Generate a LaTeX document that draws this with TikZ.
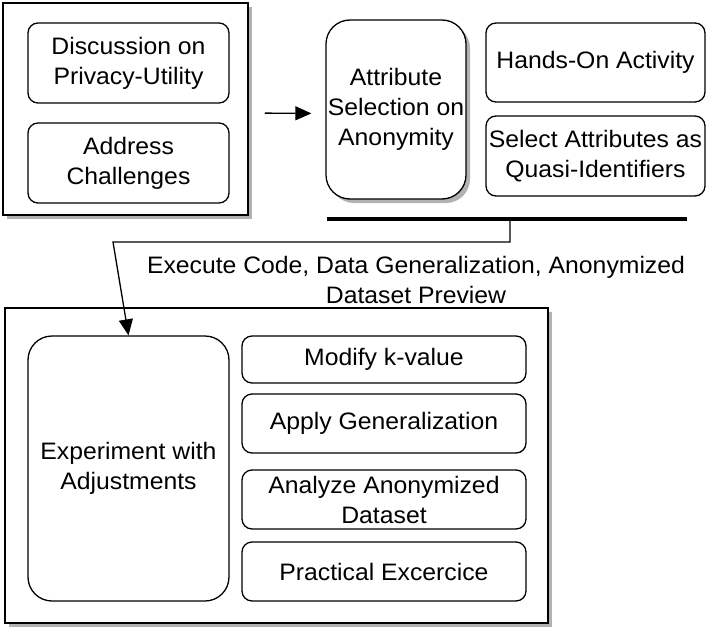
\documentclass[tikz,border=0pt]{standalone}
\usepackage{fontspec}
\setmainfont{Liberation Sans}[FakeStretch=1.04]
\usetikzlibrary{arrows.meta,shadows}
\begin{document}
\begin{tikzpicture}[x=1pt,y=-1pt,
  every node/.style={font=\fontsize{23.8}{30}\selectfont, align=center, inner sep=0pt},
  shad/.style={general shadow={fill=black!30, shadow xshift=4pt, shadow yshift=-4pt}},
  frame/.style={draw, line width=1.5pt, fill=white, shad},
  rbox/.style={draw, line width=1.3pt, rounded corners=10pt, fill=white},
  bigbox/.style={rbox, rounded corners=24pt},
  conn/.style={line width=1.3pt, -{Triangle[length=16pt,width=14pt]}}
]
\useasboundingbox (0,0) rectangle (709,634);
% top-left group
\node[frame, minimum width=245pt, minimum height=212pt] (tl) at (125.5,109) {};
\node[rbox, minimum width=201pt, minimum height=80pt] (disc) at (128.5,63) {Discussion on\\Privacy-Utility};
\node[rbox, minimum width=201pt, minimum height=80pt] (addr) at (128.5,163) {Address\\Challenges};
% top-right group
\node[bigbox, shad, minimum width=140pt, minimum height=179pt] (attr) at (396,109.5) {Attribute\\Selection on\\Anonymity};
\node[rbox, minimum width=219pt, minimum height=79pt] (hands) at (595.5,62.5) {Hands-On Activity};
\node[rbox, minimum width=219pt, minimum height=80pt] (sel) at (595.5,156) {Select Attributes as\\Quasi-Identifiers};
\draw[conn, shorten <=16pt, shorten >=14pt] ([yshift=-4pt]tl.east) -- ([yshift=-4pt]attr.west);
% bar
\coordinate (barL) at (327,219);
\coordinate (barR) at (687,219);
\draw[line width=4pt] (barL) -- (barR);
\coordinate (tap) at (510,219);
\coordinate (bend) at (113,242);
% bottom group
\node[frame, minimum width=543pt, minimum height=315pt] (bot) at (276.5,465.5) {};
\node[bigbox, minimum width=201pt, minimum height=265pt] (exp) at (128.5,468.5) {Experiment with\\Adjustments};
\node[rbox, minimum width=284pt, minimum height=47pt] (mod) at (384,359.5) {Modify k-value};
\node[rbox, minimum width=284pt, minimum height=59pt] (app) at (384,423.5) {Apply Generalization};
\node[rbox, minimum width=284pt, minimum height=59pt] (ana) at (384,499.5) {Analyze Anonymized\\Dataset};
\node[rbox, minimum width=284pt, minimum height=59pt] (prac) at (384,571.5) {Practical Excercice};
% connector
\draw[conn] (tap) |- (bend) -- (exp.north);
\node (lbl) at (416,280) {Execute Code, Data Generalization, Anonymized\\Dataset Preview};
\end{tikzpicture}
\end{document}
